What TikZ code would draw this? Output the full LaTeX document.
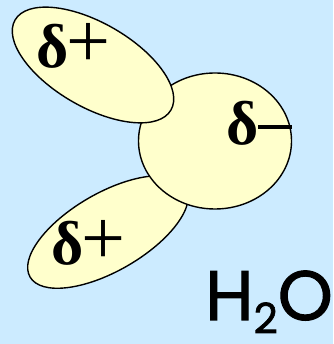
\documentclass[tikz,border=0pt]{standalone}
\usepackage{fontspec}
\setmainfont{Liberation Serif}
\newfontfamily\formulafont[FakeBold=1.5]{Poppins}
\definecolor{skyback}{HTML}{CCEBFF}
\definecolor{lobefill}{HTML}{FFFFCC}
\newcommand{\pdelta}{\textbf{δ}}
\newcommand{\pplus}{{\fontsize{78}{78}\selectfont +}}
\begin{document}
\begin{tikzpicture}[
 x=1pt,y=1pt,
 lobe/.style={draw=black,fill=lobefill,line width=1.4pt},
 charge/.style={inner sep=0pt,font=\fontsize{62}{62}\selectfont}
]
 \fill[skyback] (0,0) rectangle (333,344);
 \useasboundingbox (0,0) rectangle (333,344);

 % lower hydrogen lies behind the oxygen, upper one in front
 \draw[lobe,rotate around={30:(108,112)}] (108,112) ellipse [x radius=90,y radius=39];
 \draw[lobe] (215,203) ellipse [x radius=76.5,y radius=68];
 \draw[lobe,rotate around={-30:(93,279)}] (93,279) ellipse [x radius=90,y radius=42];

 \node[charge,anchor=base west] (hupper) at (36,276) {\pdelta\kern-2pt\pplus};
 \node[charge,anchor=base west] (hlower) at (51,79) {\pdelta\kern-2pt\pplus};
 \node[charge,anchor=base west] (oxygen) at (226,199) {\pdelta\rule[0.26em]{0.55em}{0.07em}};

 \node[anchor=base west,inner sep=0pt,font=\formulafont\fontsize{70}{70}\selectfont]
  (formula) at (205,24) {H\raisebox{-0.19em}{\fontsize{42}{42}\selectfont 2}O};
\end{tikzpicture}
\end{document}
